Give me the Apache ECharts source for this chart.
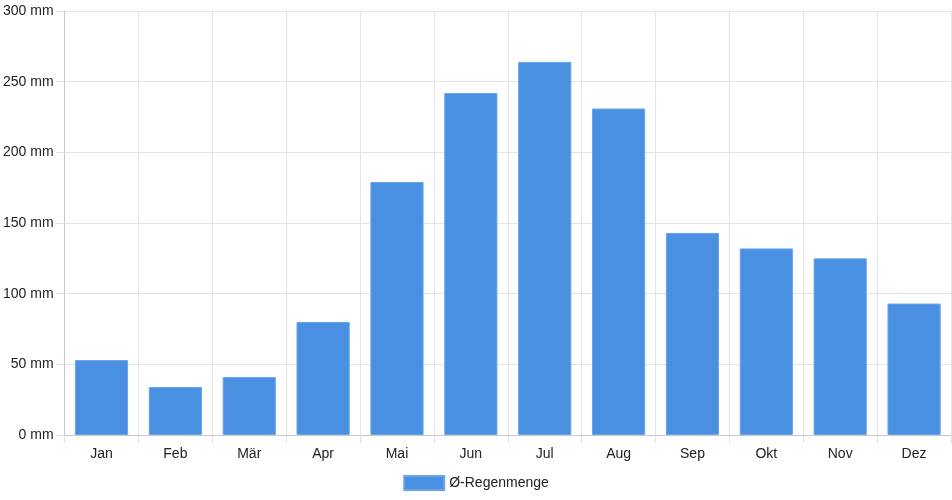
<!DOCTYPE html>
<html>
<head>
<meta charset="utf-8">
<script src="https://cdn.jsdelivr.net/npm/echarts@6/dist/echarts.min.js"></script>
<style>
html, body { margin: 0; padding: 0; background: #fff; }
#chart { width: 952px; height: 500px; }
</style>
</head>
<body>
<div id="chart"></div>
<script>
// Monate und mittlere Regenmenge
var months = ["Jan", "Feb", "Mär", "Apr", "Mai", "Jun", "Jul", "Aug", "Sep", "Okt", "Nov", "Dez"];
var rainfall = [53, 34, 41, 80, 179, 242, 264, 231, 143, 132, 125, 93];
var seriesName = "Ø-Regenmenge";

var myChart = echarts.init(document.getElementById("chart"));
var font = "'Liberation Sans', Arial, sans-serif";

var option = {
	animation: false,
	textStyle: { fontFamily: font },
	grid: { left: 64, right: 1, top: 11, bottom: 65, containLabel: false },
	legend: {
		bottom: 4,
		left: "center",
		icon: "rect",
		itemWidth: 40,
		itemHeight: 14,
		itemGap: 10,
		textStyle: { fontSize: 14, color: "#222", fontFamily: font },
		data: [seriesName]
	},
	xAxis: {
		type: "category",
		data: months,
		boundaryGap: true,
		axisLine: { lineStyle: { color: "#c8c8c8" } },
		axisTick: { show: true, alignWithLabel: false, length: 8, lineStyle: { color: "#e0e0e0" } },
		axisLabel: { fontSize: 14, color: "#222", margin: 12, fontFamily: font },
		splitLine: { show: true, lineStyle: { color: "#e4e4e4" } }
	},
	yAxis: {
		type: "value",
		min: 0,
		max: 300,
		interval: 50,
		axisLine: { show: true, lineStyle: { color: "#c8c8c8" } },
		axisTick: { show: true, length: 8, lineStyle: { color: "#e0e0e0" } },
		axisLabel: { fontSize: 14, color: "#222", margin: 11, fontFamily: font, formatter: "{value} mm" },
		splitLine: { show: true, lineStyle: { color: "#e4e4e4" } }
	},
	series: [{
		name: seriesName,
		type: "bar",
		data: rainfall,
		barWidth: "72%",
		itemStyle: { color: "#4a90e2", borderColor: "#6aa5e8", borderWidth: 1 }
	}]
};
myChart.setOption(option);
</script>
</body>
</html>
